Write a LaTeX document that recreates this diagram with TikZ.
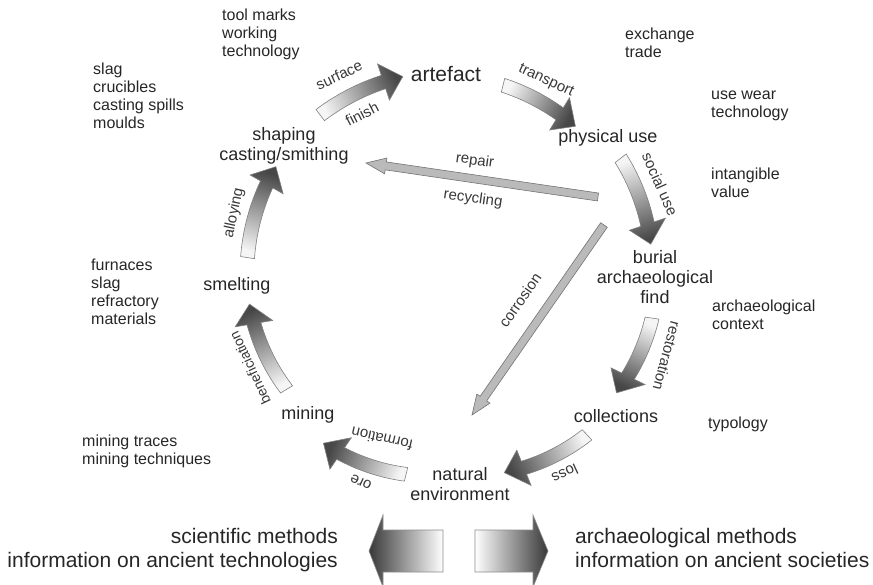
\documentclass[tikz,border=0pt]{standalone}
\usepackage{fontspec}
\setmainfont{Liberation Sans}
\usetikzlibrary{calc}
\newcommand\cycarrow[4]{%
  \pgfmathsetmacro\tA{#1}\pgfmathsetmacro\tB{#2}%
  \pgfmathsetmacro\rA{#3}\pgfmathsetmacro\rB{#4}%
  \pgfmathsetmacro\tH{\tB-20/\rB*180/pi}%
  \pgfmathsetmacro\rH{\rA+(\rB-\rA)*(\tH-\tA)/(\tB-\tA)}%
  \pgfmathsetmacro\sxx{452+\rA*cos(\tA)}\pgfmathsetmacro\syy{290+\rA*sin(\tA)}%
  \pgfmathsetmacro\exx{452+\rB*cos(\tB)}\pgfmathsetmacro\eyy{290+\rB*sin(\tB)}%
  \pgfmathsetmacro\shang{atan2(-(\eyy-\syy),\exx-\sxx)+90}%
  \path[cyc, top color=black!4, bottom color=black!72, shading angle=\shang]
    plot[domain=\tA:\tH, samples=18] ({452+(\rA+(\rB-\rA)*(\x-\tA)/(\tB-\tA)+7)*cos(\x)},{290+(\rA+(\rB-\rA)*(\x-\tA)/(\tB-\tA)+7)*sin(\x)})
    -- ({452+(\rH+19)*cos(\tH)},{290+(\rH+19)*sin(\tH)})
    -- (\exx,\eyy)
    -- ({452+(\rH-19)*cos(\tH)},{290+(\rH-19)*sin(\tH)})
    -- plot[domain=\tH:\tA, samples=18] ({452+(\rA+(\rB-\rA)*(\x-\tA)/(\tB-\tA)-7)*cos(\x)},{290+(\rA+(\rB-\rA)*(\x-\tA)/(\tB-\tA)-7)*sin(\x)})
    -- cycle;%
}
\newcommand\strarrow[2]{%
  \path[strarr] ($(#1)!4pt!90:(#2)$) -- ($($(#2)!20pt!(#1)$)!4pt!90:(#2)$)
    -- ($($(#2)!20pt!(#1)$)!8pt!90:(#2)$) -- (#2)
    -- ($($(#2)!20pt!(#1)$)!8pt!-90:(#2)$) -- ($($(#2)!20pt!(#1)$)!4pt!-90:(#2)$)
    -- ($(#1)!4pt!-90:(#2)$) -- cycle;%
}
\begin{document}
\begin{tikzpicture}[x=1pt,y=-1pt,
  main/.style={font=\fontsize{18}{20}\selectfont, align=center, anchor=north, inner sep=0pt, text=black!85},
  note/.style={font=\fontsize{16}{18}\selectfont, align=left, anchor=north west, inner sep=0pt, text=black!85},
  lab/.style={font=\fontsize{15}{17}\selectfont, inner sep=0pt, text=black!78},
  big/.style={font=\fontsize{21}{24}\selectfont, inner sep=0pt, text=black!85},
  cyc/.style={draw=black!50, line width=0.6pt},
  strarr/.style={draw=black!55, fill=black!27, line width=0.6pt},
  blockarr/.style={draw=black!45, line width=0.6pt}]
\useasboundingbox (0,0) rectangle (873,585);

% main stages
\node[main, font=\fontsize{21}{24}\selectfont] (artefact) at (446,65) {\strut artefact};
\node[main] (physical) at (608,128) {\strut physical use};
\node[main] (shaping) at (284,126) {\strut shaping\\casting/smithing};
\node[main] (burial) at (655,249) {\strut burial\\archaeological\\find};
\node[main] (collections) at (616,408) {\strut collections};
\node[main] (natural) at (460,466) {\strut natural\\environment};
\node[main] (mining) at (308,405) {\strut mining};
\node[main] (smelting) at (237,276) {\strut smelting};

% side notes
\node[note] (toolmarks) at (222,7.4) {\strut tool marks\\working\\technology};
\node[note] (slag) at (93,61.4) {\strut slag\\crucibles\\casting spills\\moulds};
\node[note] (exchange) at (625,26.4) {\strut exchange\\trade};
\node[note] (usewear) at (711,86.4) {\strut use wear\\technology};
\node[note] (intangible) at (711,167) {\strut intangible\\value};
\node[note] (archctx) at (712,299) {\strut archaeological\\context};
\node[note] (typology) at (708,416) {\strut typology};
\node[note] (furnaces) at (91,257.4) {\strut furnaces\\slag\\refractory\\materials};
\node[note] (miningtr) at (82,433.4) {\strut mining traces\\mining techniques};

% cycle arrows
\cycarrow{-127}{-103}{219}{219}
\cycarrow{-76}{-53}{211}{205}
\cycarrow{-38}{-13}{214}{204}
\cycarrow{8}{32}{202}{194}
\cycarrow{47}{74}{198}{190}
\cycarrow{104}{130}{190}{200}
\cycarrow{149}{176}{193}{203}
\cycarrow{189}{215}{207}{215}

% arrow labels
\node[lab, rotate=25] (surface) at (339,75) {surface};
\node[lab, rotate=27] (finish) at (362,114) {finish};
\node[lab, rotate=-25] (transport) at (546,81) {transport};
\node[lab, rotate=-66] (socialuse) at (660,184) {social use};
\node[lab, rotate=-105] (restoration) at (667,356) {restoration};
\node[lab, rotate=205] (loss) at (565,474) {loss};
\node[lab, rotate=167] (formation) at (382,439) {formation};
\node[lab, rotate=155] (ore) at (361,482) {ore};
\node[lab, rotate=115, font=\fontsize{14}{16}\selectfont] (benef) at (250,368) {beneficiation};
\node[lab, rotate=78] (alloying) at (234,213) {alloying};

% straight arrows
\coordinate (repA) at (598,197);
\coordinate (repB) at (366,163);
\coordinate (corA) at (604,225);
\coordinate (corB) at (472,415);
\strarrow{repA}{repB}
\strarrow{corA}{corB}
\node[lab, rotate=-8] (repair) at (475,161) {repair};
\node[lab, rotate=-8] (recycling) at (473,199) {recycling};
\node[lab, rotate=55] (corrosion) at (520,300) {corrosion};

% bottom block arrows
\path[blockarr, left color=black!78, right color=white]
  (443,530) -- (383,530) -- (383,515) -- (369,551) -- (383,587) -- (383,572) -- (443,572) -- cycle;
\path[blockarr, left color=white, right color=black!78]
  (475,530) -- (533,530) -- (533,515) -- (548,551) -- (533,587) -- (533,572) -- (475,572) -- cycle;
\node[big, align=right, anchor=north east] (sci) at (338,526) {\strut scientific methods\\information on ancient technologies};
\node[big, align=left, anchor=north west] (arch) at (575,526) {\strut archaeological methods\\information on ancient societies};
\end{tikzpicture}
\end{document}
